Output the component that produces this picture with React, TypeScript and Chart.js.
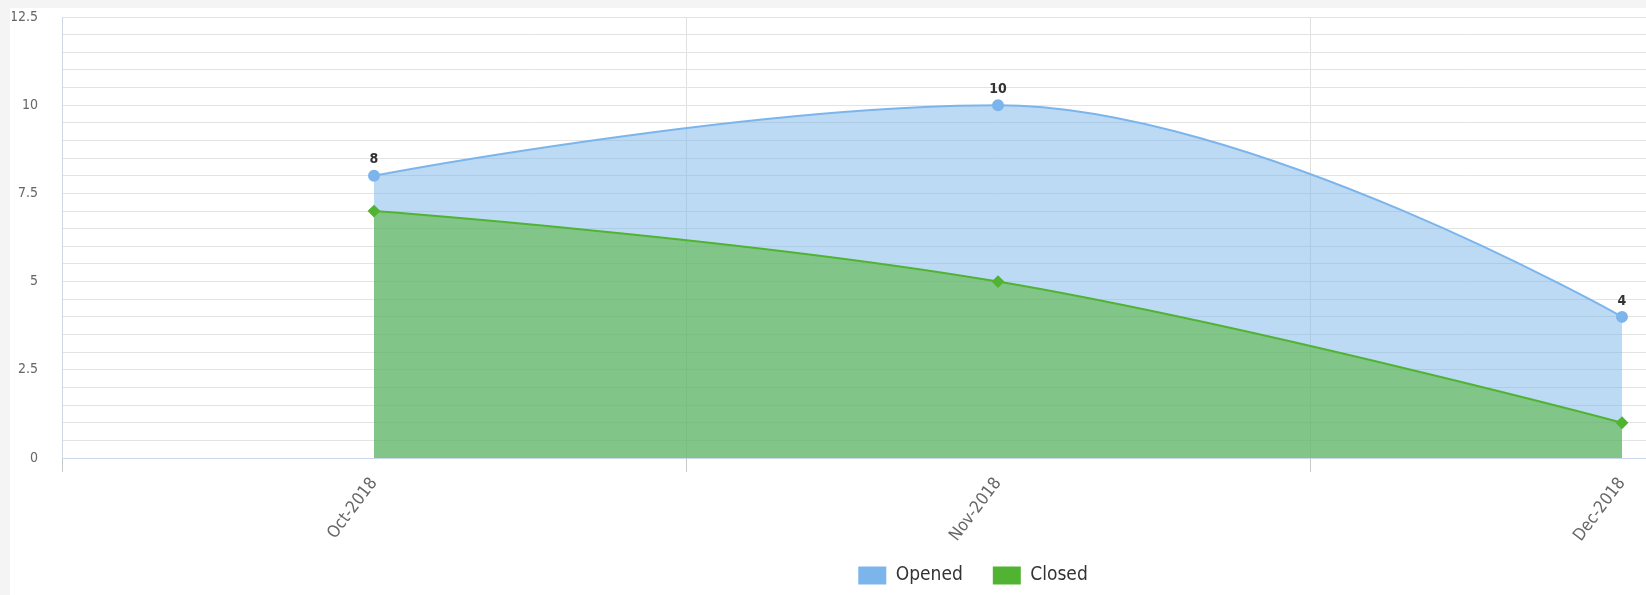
import React, { useEffect, useRef } from "react";
import { Chart, registerables } from "chart.js";

Chart.register(...registerables);

const categories = ["Oct-2018", "Nov-2018", "Dec-2018"];
const openedValues = [8, 10, 4];
const closedValues = [7, 5, 1];
const seriesNames = ["Opened", "Closed"];
const yTickLabels = [0, 2.5, 5, 7.5, 10, 12.5];

const FONT = "'DejaVu Sans Condensed', 'Liberation Sans Narrow', 'Roboto', sans-serif";
const BLUE = "#7cb5ec";
const GREEN = "#50B432";
const SERIES_COLORS = [BLUE, GREEN];

// Spline smoothing in the style of the original chart (flat at local extremes,
// control points at 40% of the neighbour distance, none at the end points).
function applySpline(points: any[]) {
  const sm = 1.5;
  const den = 2.5;
  for (const p of points) {
    p.cp1x = p.x;
    p.cp1y = p.y;
    p.cp2x = p.x;
    p.cp2y = p.y;
  }
  for (let i = 1; i < points.length - 1; i++) {
    const last = points[i - 1];
    const p = points[i];
    const next = points[i + 1];
    const lx = (sm * p.x + last.x) / den;
    let ly = (sm * p.y + last.y) / den;
    const rx = (sm * p.x + next.x) / den;
    let ry = (sm * p.y + next.y) / den;
    if (rx !== lx) {
      const c = ((ry - ly) * (rx - p.x)) / (rx - lx) + p.y - ry;
      ly += c;
      ry += c;
    }
    if (ly > last.y && ly > p.y) {
      ly = Math.max(last.y, p.y);
      ry = 2 * p.y - ly;
    } else if (ly < last.y && ly < p.y) {
      ly = Math.min(last.y, p.y);
      ry = 2 * p.y - ly;
    }
    if (ry > next.y && ry > p.y) {
      ry = Math.max(next.y, p.y);
      ly = 2 * p.y - ry;
    } else if (ry < next.y && ry < p.y) {
      ry = Math.min(next.y, p.y);
      ly = 2 * p.y - ry;
    }
    p.cp1x = lx;
    p.cp1y = ly;
    p.cp2x = rx;
    p.cp2y = ry;
  }
}

const helperPlugin = {
  id: "helper",
  afterDatasetsUpdate(chart: any) {
    chart.data.datasets.forEach((_: any, i: number) => {
      const meta = chart.getDatasetMeta(i);
      const line = meta.dataset;
      if (!line) return;
      line.updateControlPoints(chart.chartArea, "x");
      applySpline(meta.data);
    });
  },
  beforeDraw(chart: any) {
    // let rotated x labels overflow the axis box instead of being clipped
    const sx = chart.scales.x;
    if (sx) sx._computeLabelArea = () => undefined;
  },
  afterDatasetsDraw(chart: any) {
    const meta = chart.getDatasetMeta(0);
    const ctx = chart.ctx;
    ctx.save();
    ctx.font = `bold 14px ${FONT}`;
    ctx.fillStyle = "#333";
    ctx.textAlign = "center";
    ctx.textBaseline = "bottom";
    meta.data.forEach((pt: any, i: number) => {
      ctx.fillText(String(openedValues[i]), pt.x, pt.y - 9);
    });
    ctx.restore();
  },
};

export default function App() {
  const ref = useRef<HTMLCanvasElement>(null);
  useEffect(() => {
    if (!ref.current) return;
    const chart = new Chart(ref.current, {
      type: "line",
      data: {
        labels: categories,
        datasets: [
          {
            label: seriesNames[0],
            data: openedValues,
            borderColor: BLUE,
            backgroundColor: "rgba(124,181,236,0.5)",
            pointBackgroundColor: BLUE,
            pointBorderColor: BLUE,
            pointRadius: 5,
            pointStyle: "circle",
            borderWidth: 2,
            fill: "origin",
            tension: 0.4,
            order: 2,
          },
          {
            label: seriesNames[1],
            data: closedValues,
            borderColor: GREEN,
            backgroundColor: "rgba(80,180,50,0.55)",
            pointBackgroundColor: GREEN,
            pointBorderColor: GREEN,
            pointRadius: 5,
            pointStyle: "rectRot",
            borderWidth: 2,
            fill: "origin",
            tension: 0.4,
            order: 1,
          },
        ],
      },
      options: {
        animation: false,
        responsive: false,
        devicePixelRatio: 1,
        layout: { padding: { top: 17, right: 10, left: 12, bottom: 0 } },
        scales: {
          x: {
            type: "category",
            offset: true,
            grid: {
              offset: true,
              color: "#e0e0e0",
              tickColor: "#c8c8c8",
              tickLength: 14,
              drawTicks: true,
            },
            border: { color: "#ccd6eb", width: 1 },
            ticks: {
              minRotation: 53,
              maxRotation: 53,
              color: "#666",
              padding: 2,
              font: { family: FONT, size: 17 },
            },
            afterFit(scale: any) {
              scale.height = 78;
            },
          },
          y: {
            min: 0,
            max: 12.5,
            grid: { color: "#e3e3e3", drawTicks: false },
            border: { color: "#d0d8e6", width: 1 },
            afterBuildTicks(scale: any) {
              const t = [];
              for (let i = 0; i <= 25; i++) t.push({ value: i * 0.5 });
              scale.ticks = t;
            },
            ticks: {
              autoSkip: false,
              color: "#666",
              padding: 24,
              font: { family: FONT, size: 14 },
              callback: (v: any) => (yTickLabels.includes(Number(v)) ? String(v) : ""),
            },
            afterFit(scale: any) {
              scale.width = 50;
              scale.paddingTop = 0;
              scale.paddingBottom = 0;
            },
          },
        },
        plugins: {
          tooltip: { enabled: false },
          legend: {
            position: "bottom",
            labels: {
              boxWidth: 28,
              boxHeight: 18,
              padding: 30,
              color: "#333",
              font: { family: FONT, size: 19 },
              generateLabels: () =>
                seriesNames.map((name, i) => ({
                  text: name,
                  fillStyle: SERIES_COLORS[i],
                  strokeStyle: SERIES_COLORS[i],
                  lineWidth: 0,
                  hidden: false,
                  datasetIndex: i,
                  fontColor: "#333",
                })),
            },
          },
        },
      },
      plugins: [helperPlugin],
    } as any);
    return () => chart.destroy();
  }, []);

  return (
    <div
      style={{
        position: "fixed",
        left: 0,
        top: 0,
        width: 1646,
        height: 595,
        overflow: "hidden",
        background: "#f4f4f4",
      }}
    >
      <div style={{ position: "absolute", left: 10, top: 8, width: 1944, height: 600, background: "#fff" }} />
      <canvas ref={ref} width={1944} height={595} style={{ position: "absolute", left: 0, top: 0 }} />
    </div>
  );
}
